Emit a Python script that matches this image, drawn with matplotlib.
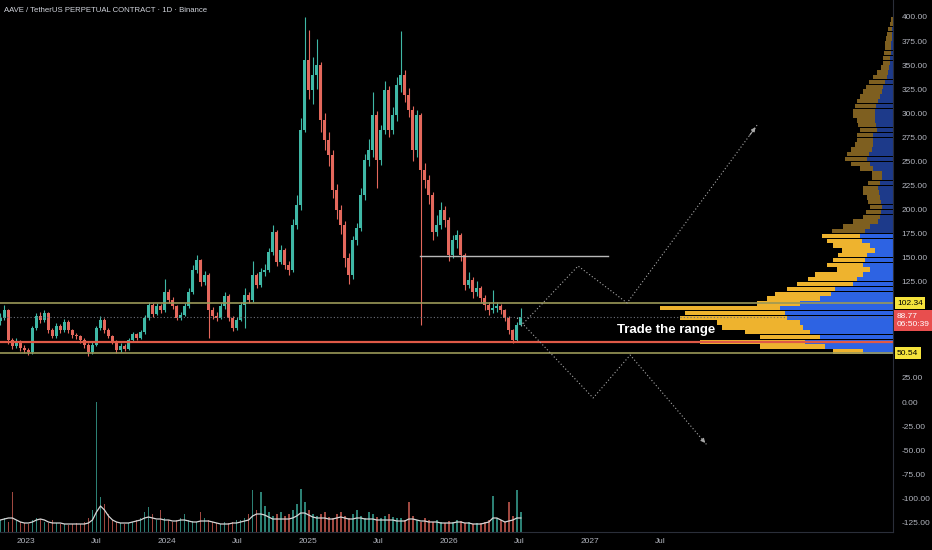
import numpy as np
import pandas as pd
import matplotlib
matplotlib.use("Agg")
import matplotlib.pyplot as plt
import matplotlib.transforms as mtransforms

# ---- price bars (10-day candles) ----
first_bar = "2022-10-26"
bar_hours = 249
first_open = 84.0
close = [87.3, 95.6, 64.4, 58.2, 61.3, 56.1, 54.0, 51.9, 76.9, 89.4,
         85.2, 92.5, 74.8, 68.6, 79.0, 74.8, 83.1, 74.8, 69.6, 68.6,
         64.4, 59.2, 51.9, 59.2, 76.9, 85.2, 74.8, 68.6, 62.3, 54.0,
         58.2, 55.1, 64.4, 70.6, 66.5, 72.7, 87.3, 100.8, 91.4, 99.7,
         95.6, 114.3, 106.0, 99.7, 87.3, 90.4, 99.7, 114.3, 137.1, 147.5,
         124.7, 131.9, 95.6, 89.4, 87.3, 99.7, 110.1, 87.3, 76.9, 85.2,
         100.8, 111.2, 106.0, 131.9, 121.6, 135.1, 137.1, 155.8, 176.6, 145.5,
         157.9, 142.3, 137.1, 183.9, 204.7, 282.6, 355.3, 324.2, 339.7, 350.1,
         293.0, 272.2, 256.6, 220.3, 199.5, 183.9, 149.6, 131.9, 168.3, 180.8,
         215.1, 251.4, 261.8, 298.2, 251.4, 282.6, 324.2, 282.6, 298.2, 329.4,
         339.7, 319.0, 303.4, 261.8, 298.2, 241.0, 230.6, 215.1, 176.6, 183.9,
         199.5, 189.1, 152.7, 168.3, 173.5, 152.7, 121.6, 126.8, 114.3, 118.4,
         108.1, 100.8, 95.6, 97.7, 99.7, 95.6, 87.3, 74.8, 64.4, 80.0,
         88.77]
high = [92, 101, 97, 67, 66, 64, 59, 56, 79, 92,
        93, 96, 94, 77, 82, 81, 86, 85, 76, 72,
        70, 66, 61, 62, 79, 89, 87, 77, 70, 64,
        61, 60, 67, 73, 72, 75, 90, 104, 103, 103,
        102, 128, 117, 109, 101, 94, 103, 118, 142, 153,
        149, 136, 134, 99, 93, 103, 114, 112, 89, 88,
        104, 118, 114, 147, 134, 139, 143, 160, 184, 179,
        163, 160, 147, 190, 215, 295, 400, 386, 358, 377,
        353, 300, 280, 262, 226, 205, 188, 155, 172, 186,
        222, 258, 273, 322, 302, 288, 334, 328, 306, 338,
        385, 345, 326, 308, 303, 300, 248, 236, 218, 194,
        208, 204, 192, 174, 179, 176, 155, 135, 130, 126,
        121, 111, 104, 116, 104, 102, 97, 89, 76, 83,
        98]
low = [80, 85, 60, 55, 56, 53, 51, 49, 50, 75,
       82, 83, 72, 66, 67, 72, 73, 72, 67, 65,
       61, 56, 48, 50, 58, 75, 72, 66, 60, 51,
       52, 53, 54, 62, 64, 65, 71, 85, 88, 90,
       92, 94, 103, 97, 85, 85, 89, 98, 112, 134,
       121, 122, 67, 86, 84, 86, 97, 84, 74, 75,
       84, 77, 103, 104, 118, 119, 131, 135, 153, 141,
       143, 138, 132, 135, 180, 200, 280, 315, 310, 325,
       280, 262, 245, 212, 190, 175, 140, 123, 128, 163,
       178, 210, 245, 255, 222, 246, 278, 275, 278, 292,
       322, 312, 296, 250, 255, 80, 222, 206, 168, 172,
       180, 182, 146, 150, 160, 146, 116, 118, 108, 110,
       103, 96, 90, 92, 94, 91, 84, 71, 61, 63,
       79]
volume = [12, 14, 10, 40, 12, 10, 9, 8, 12, 14,
          13, 10, 9, 12, 9, 8, 8, 7, 8, 9,
          8, 10, 14, 22, 130, 35, 28, 18, 12, 10,
          9, 8, 9, 10, 12, 14, 20, 25, 18, 12,
          22, 14, 12, 10, 12, 14, 18, 12, 11, 10,
          20, 14, 12, 10, 9, 8, 10, 9, 10, 12,
          12, 14, 18, 42, 22, 40, 26, 20, 16, 18,
          20, 16, 18, 22, 28, 43, 30, 22, 18, 16,
          18, 20, 15, 14, 18, 20, 16, 14, 18, 22,
          16, 14, 20, 18, 15, 14, 16, 18, 15, 14,
          14, 12, 30, 16, 12, 10, 14, 12, 10, 12,
          10, 9, 11, 10, 12, 11, 9, 10, 8, 9,
          9, 10, 12, 36, 14, 12, 10, 30, 16, 42,
          20]
volume_ma = [12, 13, 14, 14, 12, 10, 9, 9, 10, 12,
             13, 12, 10, 9, 9, 9, 8, 8, 8, 8,
             8, 8, 9, 12, 20, 26, 22, 16, 12, 10,
             9, 9, 9, 10, 11, 12, 14, 15, 14, 13,
             13, 12, 12, 11, 11, 12, 12, 11, 10, 10,
             11, 11, 11, 10, 9, 8, 8, 8, 9, 9,
             10, 11, 12, 16, 18, 18, 17, 15, 13, 13,
             13, 13, 13, 14, 16, 19, 19, 17, 15, 14,
             14, 14, 13, 13, 14, 15, 14, 13, 13, 14,
             14, 13, 13, 13, 12, 12, 12, 12, 12, 11,
             11, 11, 13, 13, 12, 11, 11, 10, 10, 10,
             9, 9, 9, 9, 10, 10, 9, 9, 8, 8,
             8, 9, 10, 14, 14, 12, 10, 11, 12, 14,
             14]

# ---- visible range volume profile (rows of 5 USDT from 50) ----
vp_first_row = 52.5
vp_total = [60, 133, 193, 133, 148, 171, 176, 213, 208, 233,
            136, 126, 118, 106, 96, 85, 78, 56, 66, 60,
            55, 51, 60, 66, 71, 61, 50, 40, 30, 27,
            23, 25, 26, 30, 30, 25, 21, 21, 33, 42,
            48, 46, 42, 38, 36, 36, 33, 35, 36, 40,
            40, 38, 36, 33, 30, 27, 24, 20, 16, 12,
            10, 10, 9, 8, 8, 7, 6, 5, 3, 2]
vp_up = [30, 68, 88, 73, 83, 90, 93, 106, 108, 113,
         93, 73, 62, 58, 40, 36, 30, 23, 30, 28,
         26, 18, 23, 31, 33, 28, 23, 15, 13, 12,
         11, 12, 13, 14, 15, 13, 11, 11, 20, 23,
         26, 24, 21, 20, 20, 20, 16, 17, 18, 18,
         18, 17, 15, 13, 11, 10, 8, 6, 5, 4,
         3, 3, 2, 2, 2, 1, 1, 1, 0.5, 0.5]
value_area_top = 175

# ---- drawings ----
range_top = 102.34
range_bottom = 50.54
support = 62.3
last_price = 88.77
countdown = "06:50:39"
grey_line_dates = ["2025-10-18", "2027-02-17"]
grey_line_price = 151.7
up_path_dates = ["2026-07-06", "2026-12-01", "2027-04-07", "2028-03-09"]
up_path_prices = [79.0, 141.3, 102.9, 287.8]
down_path_dates = ["2026-06-26", "2027-01-09", "2027-04-15", "2027-10-31"]
down_path_prices = [87.3, 4.2, 48.8, -44.7]
note_date, note_price = "2027-03-12", 74.8

price_ticks = [400, 375, 350, 325, 300, 275, 250, 225, 200, 175, 150, 125,
               25, 0, -25, -50, -75, -100, -125]
time_ticks = ["2023-01-01", "2023-07-01", "2024-01-01", "2024-07-01", "2025-01-01",
              "2025-07-01", "2026-01-01", "2026-07-01", "2027-01-01", "2027-07-01"]
time_labels = ["2023", "Jul", "2024", "Jul", "2025", "Jul", "2026", "Jul", "2027", "Jul"]

T0 = pd.Timestamp("2023-01-01")


def day(s):
    return (pd.Timestamp(s) - T0).total_seconds() / 86400.0


BG = "#000000"
UP, DN = "#3fb8a6", "#e4685c"
AXIS_TXT = "#b2b5be"
FONT = ["Liberation Sans", "DejaVu Sans"]
X_LIM = (day("2022-10-25"), day("2029-02-24"))
Y_LIM = (-135.06, 417.66)


def main():
    n = len(close)
    x = np.array([day(d) for d in pd.date_range(first_bar, periods=n, freq=f"{bar_hours}h")])
    c = np.array(close)
    o = np.concatenate([[first_open], c[:-1]])
    cols = np.where(c >= o, UP, DN)

    fig = plt.figure(figsize=(9.32, 5.5), dpi=100, facecolor=BG)
    rect = [0, 18 / 550, 893 / 932, 532 / 550]

    # volume profile (bottom layer)
    vp = fig.add_axes(rect, facecolor=BG, zorder=0)
    vp.set_xlim(893, 0)
    vp.set_ylim(*Y_LIM)
    rows = vp_first_row + 5 * np.arange(len(vp_total))
    bright = rows < value_area_top
    vp.barh(rows, vp_total, height=4.6, color=np.where(bright, "#eeb32e", "#7e5f20"), lw=0)
    vp.barh(rows, vp_up, height=4.6, color=np.where(bright, "#2d63e3", "#1d3a8a"), lw=0)
    vp.axis("off")

    # volume pane
    vax = fig.add_axes(rect, facecolor="none", zorder=1)
    vax.set_xlim(*X_LIM)
    vax.set_ylim(0, 532)
    vax.bar(x, volume, width=4.5, color=cols, alpha=0.7, lw=0)
    vax.plot(x, volume_ma, color="#d6d6d6", lw=0.9)
    vax.axis("off")

    # price pane
    ax = fig.add_axes(rect, facecolor="none", zorder=2)
    ax.set_xlim(*X_LIM)
    ax.set_ylim(*Y_LIM)

    ax.vlines(x, low, high, colors=cols, lw=0.8)
    ax.bar(x, c - o, bottom=o, width=8.0, color=cols, lw=0)

    # levels
    ax.axhline(range_top, color="#9a9858", lw=1.2)
    ax.axhline(range_bottom, color="#9a9858", lw=1.2)
    ax.axhline(support, color="#e05a47", lw=1.6)
    ax.axhline(last_price, color="#6d707a", lw=0.8, ls=(0, (1, 2)))
    ax.plot([day(d) for d in grey_line_dates], [grey_line_price] * 2, color="#b8b8b8", lw=1.0)

    for dates, prices in ((up_path_dates, up_path_prices), (down_path_dates, down_path_prices)):
        px = [day(d) for d in dates]
        ax.plot(px, prices, color="#a8a8a8", lw=0.8, ls=(0, (1, 2)))
        ax.annotate("", xy=(px[-1], prices[-1]),
                    xytext=(px[-2] + 0.93 * (px[-1] - px[-2]),
                            prices[-2] + 0.93 * (prices[-1] - prices[-2])),
                    arrowprops=dict(arrowstyle="-|>", color="#a8a8a8", lw=0.8,
                                    mutation_scale=6))

    ax.text(day(note_date), note_price, "Trade the range", color="white", fontsize=9.5,
            fontweight="bold", va="center", ha="left", family=FONT)

    ax.text(4 / 893, 1 - 10 / 532, "AAVE / TetherUS PERPETUAL CONTRACT · 1D · Binance",
            transform=ax.transAxes, color="#d1d4dc", fontsize=5.6, va="center", ha="left",
            family=FONT)

    # axes styling
    for s in ("top", "left"):
        ax.spines[s].set_visible(False)
    for s in ("bottom", "right"):
        ax.spines[s].set_color("#2a2e39")
        ax.spines[s].set_linewidth(0.8)
    ax.yaxis.tick_right()
    ax.set_yticks(price_ticks)
    ax.set_yticklabels([f"{v:.2f}" for v in price_ticks], family=FONT)
    ax.tick_params(axis="y", length=0, pad=6, labelsize=6, labelcolor=AXIS_TXT)
    ax.set_xticks([day(d) for d in time_ticks])
    ax.set_xticklabels(time_labels, family=FONT)
    ax.tick_params(axis="x", length=0, pad=4, labelsize=6, labelcolor=AXIS_TXT)

    lab = mtransforms.blended_transform_factory(ax.transAxes, ax.transData)
    xl = 897 / 893
    for val in (range_top, range_bottom):
        ax.text(xl, val, f"{val:.2f}", transform=lab, color="black", fontsize=6,
                va="center", ha="left", family=FONT,
                bbox=dict(boxstyle="square,pad=0.3", fc="#f5e33c", ec="none"))
    ax.text(xl, last_price + 3.5, f"{last_price:.2f}\n{countdown}", transform=lab, color="white",
            fontsize=6, va="top", ha="left", linespacing=1.25, family=FONT,
            bbox=dict(boxstyle="square,pad=0.35", fc="#e84e4e", ec="none"))

    fig.savefig("out.png", dpi=100, facecolor=BG)
    plt.close(fig)


if __name__ == "__main__":
    main()
